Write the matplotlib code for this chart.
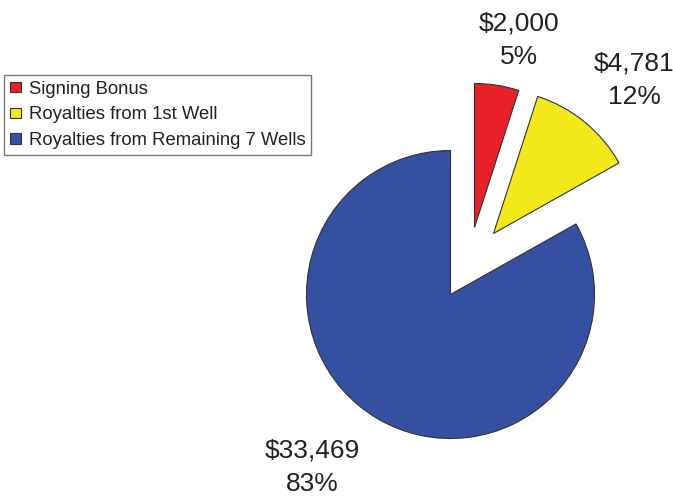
import matplotlib
matplotlib.use("Agg")
import matplotlib.pyplot as plt

plt.rcParams['font.family'] = ['Liberation Sans', 'DejaVu Sans']

categories = ["Signing Bonus", "Royalties from 1st Well", "Royalties from Remaining 7 Wells"]
values = [2000, 4781, 33469]
value_labels = ["$2,000", "$4,781", "$33,469"]
pct_labels = ["5%", "12%", "83%"]
colors = ["#E8202A", "#F2E81A", "#3550A0"]

W, H = 673, 500
fig = plt.figure(figsize=(W / 100, H / 100), dpi=100)
ax = fig.add_axes([0, 0, 1, 1])

R = 144.0          # pixel radius
cx, cy = 450.5, 294.5  # pixel center (from top)

wedges, _ = ax.pie(values, colors=colors, startangle=90, counterclock=False,
                   radius=1.0, wedgeprops=dict(edgecolor="#333333", linewidth=0.8))

# wedge offsets (exploded slices), in radius units
offsets = [(24 / R, 67 / R), (43 / R, 61 / R), (0, 0)]
for w, (dx, dy) in zip(wedges, offsets):
    w.set_center((dx, dy))

ax.set_xlim((0 - cx) / R, (W - cx) / R)
ax.set_ylim((cy - H) / R, (cy - 0) / R)
ax.set_aspect('equal')
ax.axis('off')

def px(x, y):
    return ((x - cx) / R, (cy - y) / R)

label_pos = [(519, 40), (634, 80), (312, 467)]
for (x, y), v, p in zip(label_pos, value_labels, pct_labels):
    tx, ty = px(x, y)
    ax.text(tx, ty, v + "\n" + p, ha="center", va="center", fontsize=19,
            color="#222222", linespacing=1.5)

leg = fig.legend(wedges, categories, loc="upper left",
                 bbox_to_anchor=(4 / W, 1 - 75 / H), fontsize=13.3,
                 frameon=True, fancybox=False, handlelength=0.6, handleheight=0.5,
                 handletextpad=0.45, borderpad=0.3, labelspacing=0.48,
                 borderaxespad=0)
leg.get_frame().set_edgecolor("#555555")
leg.get_frame().set_linewidth(1.0)
for t in leg.get_texts():
    t.set_color("#222222")

fig.savefig("out.png", dpi=100)
